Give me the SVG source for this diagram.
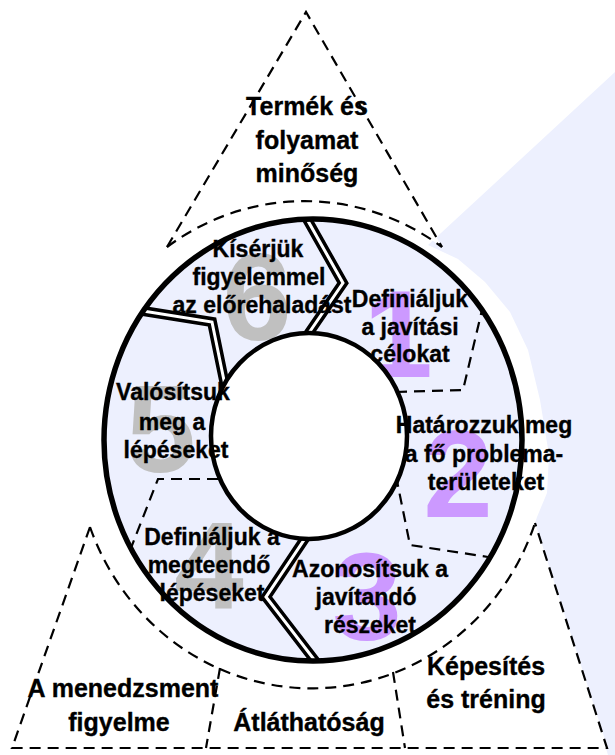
<svg xmlns="http://www.w3.org/2000/svg" width="615" height="755" viewBox="0 0 615 755">
  <defs>
    <style>
      .dash{fill:none;stroke:#000;stroke-width:2.2;stroke-dasharray:11 7;}
      .lbl{font-family:"Liberation Sans",Arial,sans-serif;font-weight:bold;fill:#000;stroke:#000;stroke-width:0.35;text-anchor:middle;}
      .seg{font-size:23px;}
      .out{font-size:25px;}
      .num{font-family:"Liberation Sans",Arial,sans-serif;font-weight:bold;font-size:125px;text-anchor:middle;}
      .gray{fill:#C0C0C0;}
      .violet{fill:#CC99FF;}
      .dblo{fill:none;stroke:#000;stroke-width:10;stroke-linejoin:miter;}
      .dbli{fill:none;stroke:#fff;stroke-width:3;stroke-linejoin:miter;}
    </style>
    <clipPath id="ringClip">
      <ellipse cx="313" cy="440" rx="209" ry="221"/>
    </clipPath>
  </defs>

  <rect width="615" height="755" fill="#fff"/>

  <!-- pale backdrop on the right, with a white margin round the ring -->
  <polygon points="428,245 615,72 615,755 608,755 535,523 537,517 547,493 549,455 540,400 528,350 510,312 485,282 458,259" fill="#EDF0FE"/>

  <!-- outer regions -->
  <g id="region-top">
    <path d="M306,12 L167,247 A236,245 0 0,1 442,247 Z" fill="#fff"/>
    <path class="dash" d="M167,247 L306,12 L442,247"/>
    <path class="dash" d="M167,247 A236,245 0 0,1 442,247"/>
    <text class="lbl out" x="307" y="115">Termék és</text>
    <text class="lbl out" x="307" y="149">folyamat</text>
    <text class="lbl out" x="307" y="182">minőség</text>
  </g>

  <g id="region-bottom">
    <path d="M90,527 A236,245 0 0,0 535,523 L608,749 L12,749 Z" fill="#fff"/>
    <path class="dash" d="M90,527 A236,245 0 0,0 535,523"/>
    <path class="dash" d="M90,527 L12,748 L607,748 L535,523"/>
    <path class="dash" d="M220,668 L206,748"/>
    <path class="dash" d="M393,672 L405,748"/>
  </g>

  <g id="region-management">
    <text class="lbl out" x="123" y="697">A menedzsment</text>
    <text class="lbl out" x="119" y="731">figyelme</text>
  </g>
  <g id="region-transparency">
    <text class="lbl out" x="309" y="731">Átláthatóság</text>
  </g>
  <g id="region-training">
    <text class="lbl out" x="486" y="675">Képesítés</text>
    <text class="lbl out" x="486" y="708">és tréning</text>
  </g>

  <!-- ring body -->
  <ellipse cx="313" cy="440" rx="209" ry="221" fill="#EDF0FE"/>

  <!-- step numbers -->
  <g id="numbers">
    <text class="num violet" x="398" y="377">1</text>
    <text class="num violet" x="458" y="517">2</text>
    <text class="num violet" x="367" y="640">3</text>
    <text class="num gray" x="209" y="608">4</text>
    <text class="num gray" x="161" y="472">5</text>
    <text class="num gray" x="257" y="340">6</text>
  </g>

  <!-- dividers between steps -->
  <g id="connectors">
    <g clip-path="url(#ringClip)">
      <path class="dblo" d="M299,205 L343,283 L302,343"/>
      <path class="dbli" d="M299,205 L343,283 L302,343"/>
      <path class="dblo" d="M118,307 L212,322 L227,395"/>
      <path class="dbli" d="M118,307 L212,322 L227,395"/>
      <path class="dblo" d="M316,522 L266,597 L326,675"/>
      <path class="dbli" d="M316,522 L266,597 L326,675"/>
    </g>
    <path class="dash" d="M396,392 L463,390 L482,310"/>
    <path class="dash" d="M396,476 L410,545 L488,557"/>
    <path class="dash" d="M218,479 L158,479 L131,548"/>
  </g>

  <!-- ring outlines -->
  <ellipse cx="313" cy="440" rx="209" ry="221" fill="none" stroke="#000" stroke-width="5.5"/>
  <ellipse cx="309" cy="436" rx="98" ry="103" fill="#fff" stroke="#000" stroke-width="4.5"/>

  <!-- step labels -->
  <g id="step-1">
    <text class="lbl seg" x="410" y="307">Definiáljuk</text>
    <text class="lbl seg" x="410" y="335">a javítási</text>
    <text class="lbl seg" x="410" y="362">célokat</text>
  </g>
  <g id="step-2">
    <text class="lbl seg" x="484" y="433">Határozzuk meg</text>
    <text class="lbl seg" x="484" y="462">a fő problema-</text>
    <text class="lbl seg" x="486" y="490">területeket</text>
  </g>
  <g id="step-3">
    <text class="lbl seg" x="370" y="577">Azonosítsuk a</text>
    <text class="lbl seg" x="366" y="605">javítandó</text>
    <text class="lbl seg" x="370" y="633">részeket</text>
  </g>
  <g id="step-4">
    <text class="lbl seg" x="212" y="545">Definiáljuk a</text>
    <text class="lbl seg" x="209" y="573">megteendő</text>
    <text class="lbl seg" x="212" y="601">lépéseket</text>
  </g>
  <g id="step-5">
    <text class="lbl seg" x="173" y="400">Valósítsuk</text>
    <text class="lbl seg" x="172" y="430">meg a</text>
    <text class="lbl seg" x="176" y="458">lépéseket</text>
  </g>
  <g id="step-6">
    <text class="lbl seg" x="258" y="257">Kísérjük</text>
    <text class="lbl seg" x="259" y="285">figyelemmel</text>
    <text class="lbl seg" x="262" y="313">az előrehaladást</text>
  </g>
</svg>
